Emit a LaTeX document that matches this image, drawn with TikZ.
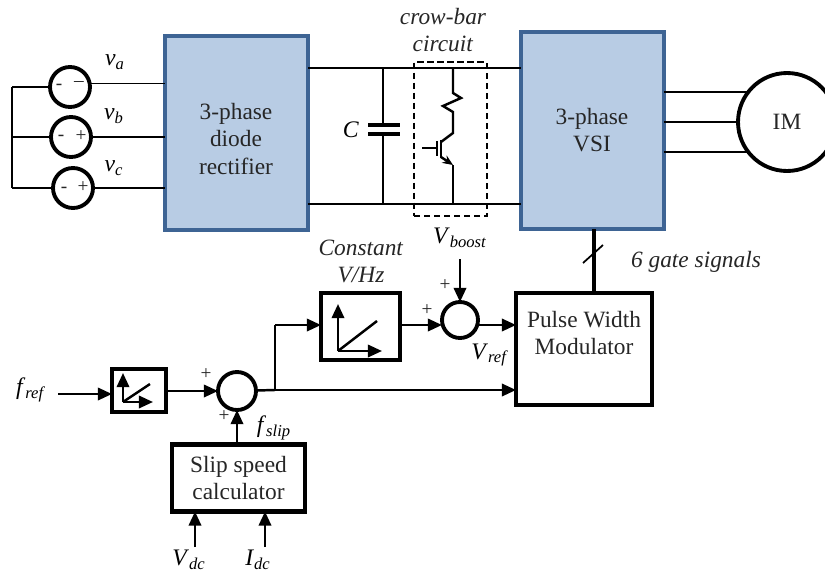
\documentclass[tikz,border=0pt]{standalone}
\usepackage{fontspec}
\setmainfont{Liberation Serif}
\usetikzlibrary{arrows.meta}
\definecolor{blockfill}{RGB}{184,204,228}
\definecolor{blockline}{RGB}{62,100,148}
\newcommand{\sigtxt}[2]{\textit{#1}\textsubscript{\textit{#2}}}
\begin{document}
\begin{tikzpicture}[x=0.02cm, y=-0.02cm,
every node/.style={inner sep=0pt, outer sep=0pt, font=\fontsize{13.3}{15.4}\selectfont, align=center, text=black!85},
powerblock/.style={draw=blockline, fill=blockfill, line width=2.6pt},
ctrlblock/.style={draw, line width=2.6pt, fill=white},
gainblock/.style={draw, line width=2pt, fill=white},
ring/.style={draw, circle, line width=2.2pt, fill=white},
wire/.style={line width=1pt},
thickwire/.style={line width=1.4pt},
signal/.style={line width=1.4pt, -{Triangle[length=8pt, width=7pt]}},
sign/.style={font=\fontsize{11}{12}\selectfont},
var/.style={font=\fontsize{13.5}{16}\selectfont, text=black}]
\useasboundingbox (0,0) rectangle (825,575);
\node[powerblock, minimum width=2.86cm, minimum height=3.88cm] (REC) at (236.5,133) {};
\node (RECT) at (236,139) {3-phase\\diode\\rectifier};
\node[powerblock, minimum width=2.86cm, minimum height=3.94cm] (VSI) at (592.5,130.5) {};
\node (VSIT) at (592,130) {3-phase\\VSI};
\node[ring, minimum size=0.8cm] (SA) at (70,87) {};
\node[ring, minimum size=0.8cm] (SB) at (71,137) {};
\node[ring, minimum size=0.8cm] (SC) at (73,188) {};
\node[ring, minimum size=1.96cm] (IM) at (787,122) {IM};
\node[ctrlblock, minimum width=2.72cm, minimum height=2.24cm] (PWM) at (584,349) {};
\node (PWMT) at (584,333) {Pulse Width\\Modulator};
\node[ctrlblock, minimum width=2.66cm, minimum height=1.34cm] (SLIP) at (238.5,478) {Slip speed\\calculator};
\node[gainblock, minimum width=1.58cm, minimum height=1.34cm] (CVHZ) at (360.5,326.5) {};
\node[gainblock, minimum width=1.08cm, minimum height=0.86cm] (GAIN) at (139,390.5) {};
\node[ring, minimum size=0.72cm] (SUMV) at (460,320) {};
\node[ring, minimum size=0.76cm] (SUMF) at (237,391) {};
\node[draw, dash pattern=on 3.5pt off 2.2pt, line width=1pt, minimum width=1.46cm, minimum height=3.08cm] (CROW) at (450.5,139) {};
\coordinate (BUSA) at (12,87);
\coordinate (BUSB) at (12,137);
\coordinate (BUSC) at (12,188);
\coordinate (DCA) at (383,68);
\coordinate (DCB) at (383,204);
\coordinate (CTOP) at (383,125);
\coordinate (CBOT) at (383,134);
\coordinate (CTL) at (368,125);
\coordinate (CTR) at (400,125);
\coordinate (CBL) at (368,134);
\coordinate (CBR) at (400,134);
\coordinate (RA) at (453,68);
\coordinate (RB) at (453,93);
\coordinate (RC) at (461,98);
\coordinate (RD) at (443,106);
\coordinate (RE) at (453,112);
\coordinate (RF) at (453,133);
\coordinate (QC) at (441,142);
\coordinate (QE) at (441,157);
\coordinate (QF) at (453,165);
\coordinate (QG) at (453,204);
\coordinate (QBA) at (441,140);
\coordinate (QBB) at (441,158);
\coordinate (GBA) at (437,141);
\coordinate (GBB) at (437,156);
\coordinate (GIN) at (422,148);
\coordinate (GMID) at (437,148);
\coordinate (TICKA) at (583,263);
\coordinate (TICKB) at (603,245);
\coordinate (VBIN) at (460,259);
\coordinate (FIN) at (58,394);
\coordinate (FOUT) at (275,390);
\coordinate (FUP) at (275,325);
\coordinate (VDCIN) at (195,547);
\coordinate (IDCIN) at (265,547);
\coordinate (CVO) at (338,351);
\coordinate (CVY) at (338,304);
\coordinate (CVX) at (382,351);
\coordinate (CVD) at (377,321);
\coordinate (GNO) at (123,402);
\coordinate (GNY) at (123,373);
\coordinate (GNX) at (153,402);
\coordinate (GND) at (150,384);
\node[var] (VAL) at (115,62) {\sigtxt{v}{a}};
\node[var] (VBL) at (114,116) {\sigtxt{v}{b}};
\node[var] (VCL) at (114,168) {\sigtxt{v}{c}};
\node[sign] (SAM) at (59,87) {-};
\node[sign] (SAP) at (79,84) {--};
\node[sign] (SBM) at (61,138) {-};
\node[sign] (SBP) at (81,136) {+};
\node[sign] (SCM) at (64,190) {-};
\node[sign] (SCP) at (83,187) {+};
\node[var] (CL) at (351,130) {\textit{C}};
\node (CROWL) at (443,30) {\textit{crow-bar}\\\textit{circuit}};
\node (CVL) at (361,261) {\textit{Constant}\\\textit{V/Hz}};
\node (GATEL) at (696,262) {\textit{6 gate signals}};
\node[var] (VBOOST) at (460,238) {\sigtxt{V}{boost}};
\node[var] (VREF) at (490,355) {\sigtxt{V}{ref}};
\node[var] (FREF) at (31,390) {\sigtxt{f}{ref}};
\node[var] (FSLIP) at (274,428) {\sigtxt{f}{slip}};
\node[var] (VDC) at (189,560) {\sigtxt{V}{dc}};
\node[var] (IDC) at (258,560) {\sigtxt{I}{dc}};
\node[sign] (PA) at (206,374) {+};
\node[sign] (PB) at (224,416) {+};
\node[sign] (PC) at (427,310) {+};
\node[sign] (PD) at (445,285) {+};
\draw[wire] (BUSA) -- (BUSC);
\draw[wire] (BUSA) -- (SA);
\draw[wire] (BUSB) -- (SB);
\draw[wire] (BUSC) -- (SC);
\draw[wire] (SA.10) -- (REC.west |- SA.10);
\draw[wire] (SB) -- (REC.west |- SB);
\draw[wire] (SC) -- (REC.west |- SC);
\draw[wire] (REC.east |- DCA) -- (VSI.west |- DCA);
\draw[wire] (REC.east |- DCB) -- (VSI.west |- DCB);
\draw[wire] (DCA) -- (CTOP);
\draw[wire] (CBOT) -- (DCB);
\draw[line width=2.2pt] (CTL) -- (CTR);
\draw[line width=2.2pt] (CBL) -- (CBR);
\draw[thickwire] (RA) -- (RB) -- (RC) -- (RD) -- (RE) -- (RF) -- (QC);
\draw[thickwire] (QBA) -- (QBB);
\draw[wire] (GBA) -- (GBB);
\draw[wire] (GIN) -- (GMID);
\draw[thickwire, -{Stealth[length=6pt, width=5pt]}] (QE) -- (QF);
\draw[thickwire] (QF) -- (QG);
\draw[wire] (VSI.east |- IM.142) -- (IM.142);
\draw[wire] (VSI.east |- IM) -- (IM);
\draw[wire] (VSI.east |- IM.218) -- (IM.218);
\draw[line width=1.8pt] (PWM.north -| 594,0) -- (VSI.south -| 594,0);
\draw[wire] (TICKA) -- (TICKB);
\draw[signal] (VBIN) -- (SUMV);
\draw[signal] (CVHZ.east |- 0,325) -- (SUMV.west |- 0,325);
\draw[signal] (SUMV.east |- 0,325) -- (PWM.west |- 0,325);
\draw[signal] (FIN) -- (GAIN.west |- FIN);
\draw[signal] (GAIN.east |- SUMF) -- (SUMF);
\draw[thickwire] (SUMF) -- (FOUT);
\draw[signal] (FOUT) -- (PWM.west |- FOUT);
\draw[thickwire] (FOUT) -- (FUP);
\draw[signal] (FUP) -- (CVHZ.west |- FUP);
\draw[signal] (SLIP.north -| SUMF) -- (SUMF);
\draw[signal] (VDCIN) -- (SLIP.south -| VDCIN);
\draw[signal] (IDCIN) -- (SLIP.south -| IDCIN);
\draw[signal] (CVO) -- (CVY);
\draw[signal] (CVO) -- (CVX);
\draw[thickwire] (CVO) -- (CVD);
\draw[signal] (GNO) -- (GNY);
\draw[signal] (GNO) -- (GNX);
\draw[thickwire] (GNO) -- (GND);
\end{tikzpicture}
\end{document}
